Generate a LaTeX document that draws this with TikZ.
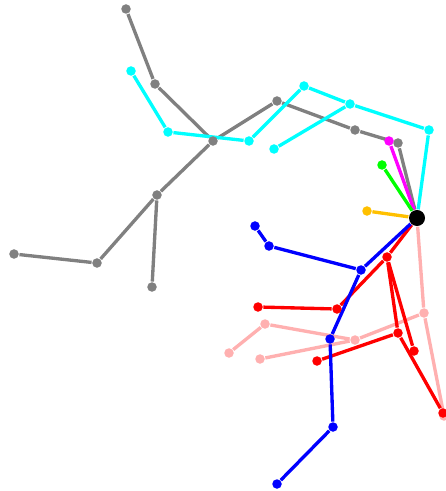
\documentclass[tikz,border=0pt]{standalone}
\usepackage{xcolor}
\usetikzlibrary{backgrounds}
\definecolor{kpgray}{RGB}{128,128,128}
\definecolor{kpcyan}{RGB}{0,255,255}
\definecolor{kpmagenta}{RGB}{255,0,255}
\definecolor{kpgreen}{RGB}{0,255,0}
\definecolor{kporange}{RGB}{255,192,0}
\definecolor{kpblue}{RGB}{0,0,255}
\definecolor{kpred}{RGB}{255,0,0}
\definecolor{kppink}{RGB}{255,176,176}
\begin{document}
\begin{tikzpicture}[x=0.01cm, y=-0.01cm, limb/.style={line width=0.95pt}, joint/.style={circle, fill, inner sep=0pt, minimum size=0.095cm}, hip/.style={circle, fill=black, inner sep=0pt, minimum size=0.16cm}]
			\useasboundingbox (0,0) rectangle (446,491);
			\node[hip] (root) at (417,218) {};

			\node[joint,kpmagenta] (m1) at (389,141) {};
			\node[joint,kpgreen] (gr1) at (382,165) {};
			\node[joint,kporange] (o1) at (367,211) {};

			\node[joint,kpgray] (g1) at (398,143) {};
			\node[joint,kpgray] (g2) at (355,130) {};
			\node[joint,kpgray] (g3) at (277,101) {};
			\node[joint,kpgray] (g4) at (213,141) {};
			\node[joint,kpgray] (g5) at (155,84) {};
			\node[joint,kpgray] (g6) at (126,9) {};
			\node[joint,kpgray] (g7) at (157,195) {};
			\node[joint,kpgray] (g8) at (97,263) {};
			\node[joint,kpgray] (g9) at (14,254) {};
			\node[joint,kpgray] (g10) at (152,287) {};

			\node[joint,kpcyan] (c1) at (429,130) {};
			\node[joint,kpcyan] (c2) at (350,104) {};
			\node[joint,kpcyan] (c3) at (304,86) {};
			\node[joint,kpcyan] (c4) at (249,141) {};
			\node[joint,kpcyan] (c5) at (168,132) {};
			\node[joint,kpcyan] (c6) at (131,71) {};
			\node[joint,kpcyan] (c7) at (274,149) {};

			\node[joint,kppink] (p1) at (424,313) {};
			\node[joint,kppink] (p2) at (444,416) {};
			\node[joint,kppink] (p3) at (355,340) {};
			\node[joint,kppink] (p4) at (265,324) {};
			\node[joint,kppink] (p5) at (229,353) {};
			\node[joint,kppink] (p6) at (260,359) {};

			\node[joint,kpred] (r1) at (387,257) {};
			\node[joint,kpred] (r2) at (337,309) {};
			\node[joint,kpred] (r3) at (258,307) {};
			\node[joint,kpred] (r4) at (398,333) {};
			\node[joint,kpred] (r5) at (414,351) {};
			\node[joint,kpred] (r6) at (443,413) {};
			\node[joint,kpred] (r7) at (317,361) {};

			\node[joint,kpblue] (b1) at (361,270) {};
			\node[joint,kpblue] (b2) at (269,246) {};
			\node[joint,kpblue] (b3) at (255,226) {};
			\node[joint,kpblue] (b4) at (330,339) {};
			\node[joint,kpblue] (b5) at (333,427) {};
			\node[joint,kpblue] (b6) at (277,484) {};

			\begin{scope}[on background layer]
			\path[limb,kpgray]
			(root) edge (g1)
			(g1) edge (g2)
			(g2) edge (g3)
			(g3) edge (g4)
			(g4) edge (g5)
			(g5) edge (g6)
			(g4) edge (g7)
			(g7) edge (g8)
			(g8) edge (g9)
			(g7) edge (g10);
			\path[limb,kpcyan]
			(root) edge (c1)
			(c1) edge (c2)
			(c2) edge (c3)
			(c3) edge (c4)
			(c4) edge (c5)
			(c5) edge (c6)
			(c2) edge (c7);
			\path[limb]
			(root) edge[kpmagenta] (m1)
			(root) edge[kpgreen] (gr1)
			(root) edge[kporange] (o1);
			\path[limb,kppink]
			(root) edge (p1)
			(p1) edge (p2)
			(p1) edge (p3)
			(p3) edge (p4)
			(p4) edge (p5)
			(p3) edge (p6);
			\path[limb,kpred]
			(root) edge (r1)
			(r1) edge (r2)
			(r2) edge (r3)
			(r1) edge (r4)
			(r1) edge (r5)
			(r4) edge (r6)
			(r4) edge (r7);
			\path[limb,kpblue]
			(root) edge (b1)
			(b1) edge (b2)
			(b2) edge (b3)
			(b1) edge (b4)
			(b4) edge (b5)
			(b5) edge (b6);
			\end{scope}
		\end{tikzpicture}
\end{document}
